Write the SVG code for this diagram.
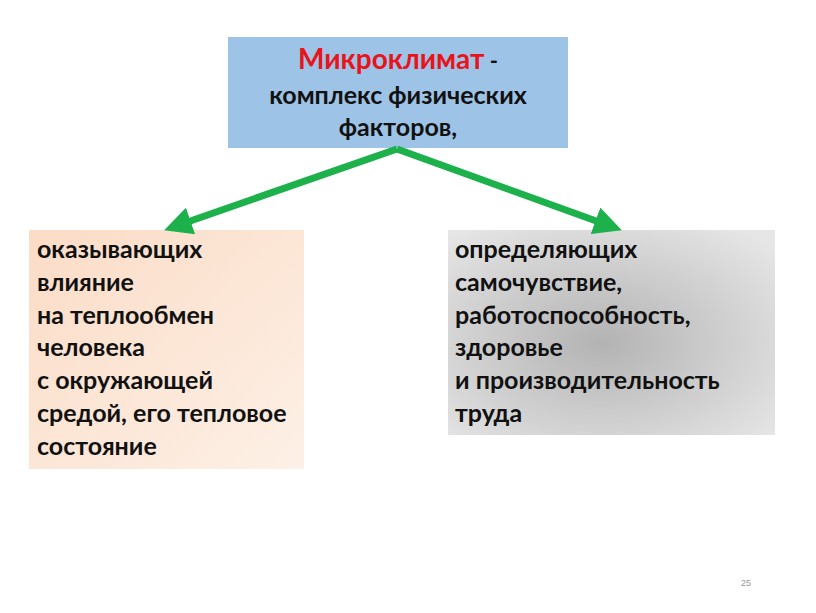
<svg xmlns="http://www.w3.org/2000/svg" width="816" height="613" viewBox="0 0 816 613">
<style>
  .t{font-family:Lato,"Open Sans","Liberation Sans",sans-serif;font-weight:bold;font-size:25px;fill:#111}
  .c{fill:none;stroke:#1db14b;stroke-width:7}
</style>
<defs>
  <linearGradient id="peach" x1="0" y1="0" x2="1" y2="1">
    <stop offset="0" stop-color="#fbdcc6"/>
    <stop offset="1" stop-color="#fdf0e6"/>
  </linearGradient>
  <radialGradient id="grey" cx="0.47" cy="0.55" r="0.7">
    <stop offset="0" stop-color="#b3b3b3"/>
    <stop offset="1" stop-color="#e6e6e6"/>
  </radialGradient>
  <marker id="ah" markerWidth="4" markerHeight="4" refX="2.2" refY="2" orient="auto" markerUnits="strokeWidth">
    <path d="M0,0 L4,2 L0,4 Z" fill="#1db14b"/>
  </marker>
</defs>
<rect width="816" height="613" fill="#fff"/>
<g id="top">
  <rect x="228" y="37" width="340" height="111" fill="#9dc3e6"/>
  <text x="398" y="69" text-anchor="middle" class="t" style="font-size:28px"><tspan fill="#e8141b">Микроклимат</tspan><tspan font-size="22"> -</tspan></text>
  <text x="398" y="104" text-anchor="middle" class="t">комплекс физических</text>
  <text x="398" y="136" text-anchor="middle" class="t">факторов,</text>
</g>
<g id="left">
  <rect x="29" y="230" width="275" height="239" fill="url(#peach)"/>
  <text class="t">
    <tspan x="37" y="258">оказывающих</tspan>
    <tspan x="37" y="291">влияние</tspan>
    <tspan x="37" y="324">на теплообмен</tspan>
    <tspan x="37" y="356">человека</tspan>
    <tspan x="37" y="389">с окружающей</tspan>
    <tspan x="37" y="422">средой, его тепловое</tspan>
    <tspan x="37" y="455">состояние</tspan>
  </text>
</g>
<g id="right">
  <rect x="448" y="230" width="327" height="205" fill="url(#grey)"/>
  <text class="t">
    <tspan x="455" y="258">определяющих</tspan>
    <tspan x="455" y="291">самочувствие,</tspan>
    <tspan x="455" y="324">работоспособность,</tspan>
    <tspan x="455" y="356">здоровье</tspan>
    <tspan x="455" y="389">и производительность</tspan>
    <tspan x="455" y="422">труда</tspan>
  </text>
</g>
<g id="connectors">
  <path class="c" d="M397,149 L176,226" marker-end="url(#ah)"/>
  <path class="c" d="M397,149 L610,226" marker-end="url(#ah)"/>
</g>
<text x="746" y="586" text-anchor="middle" font-family="Liberation Sans,sans-serif" font-size="9" fill="#999">25</text>
</svg>
